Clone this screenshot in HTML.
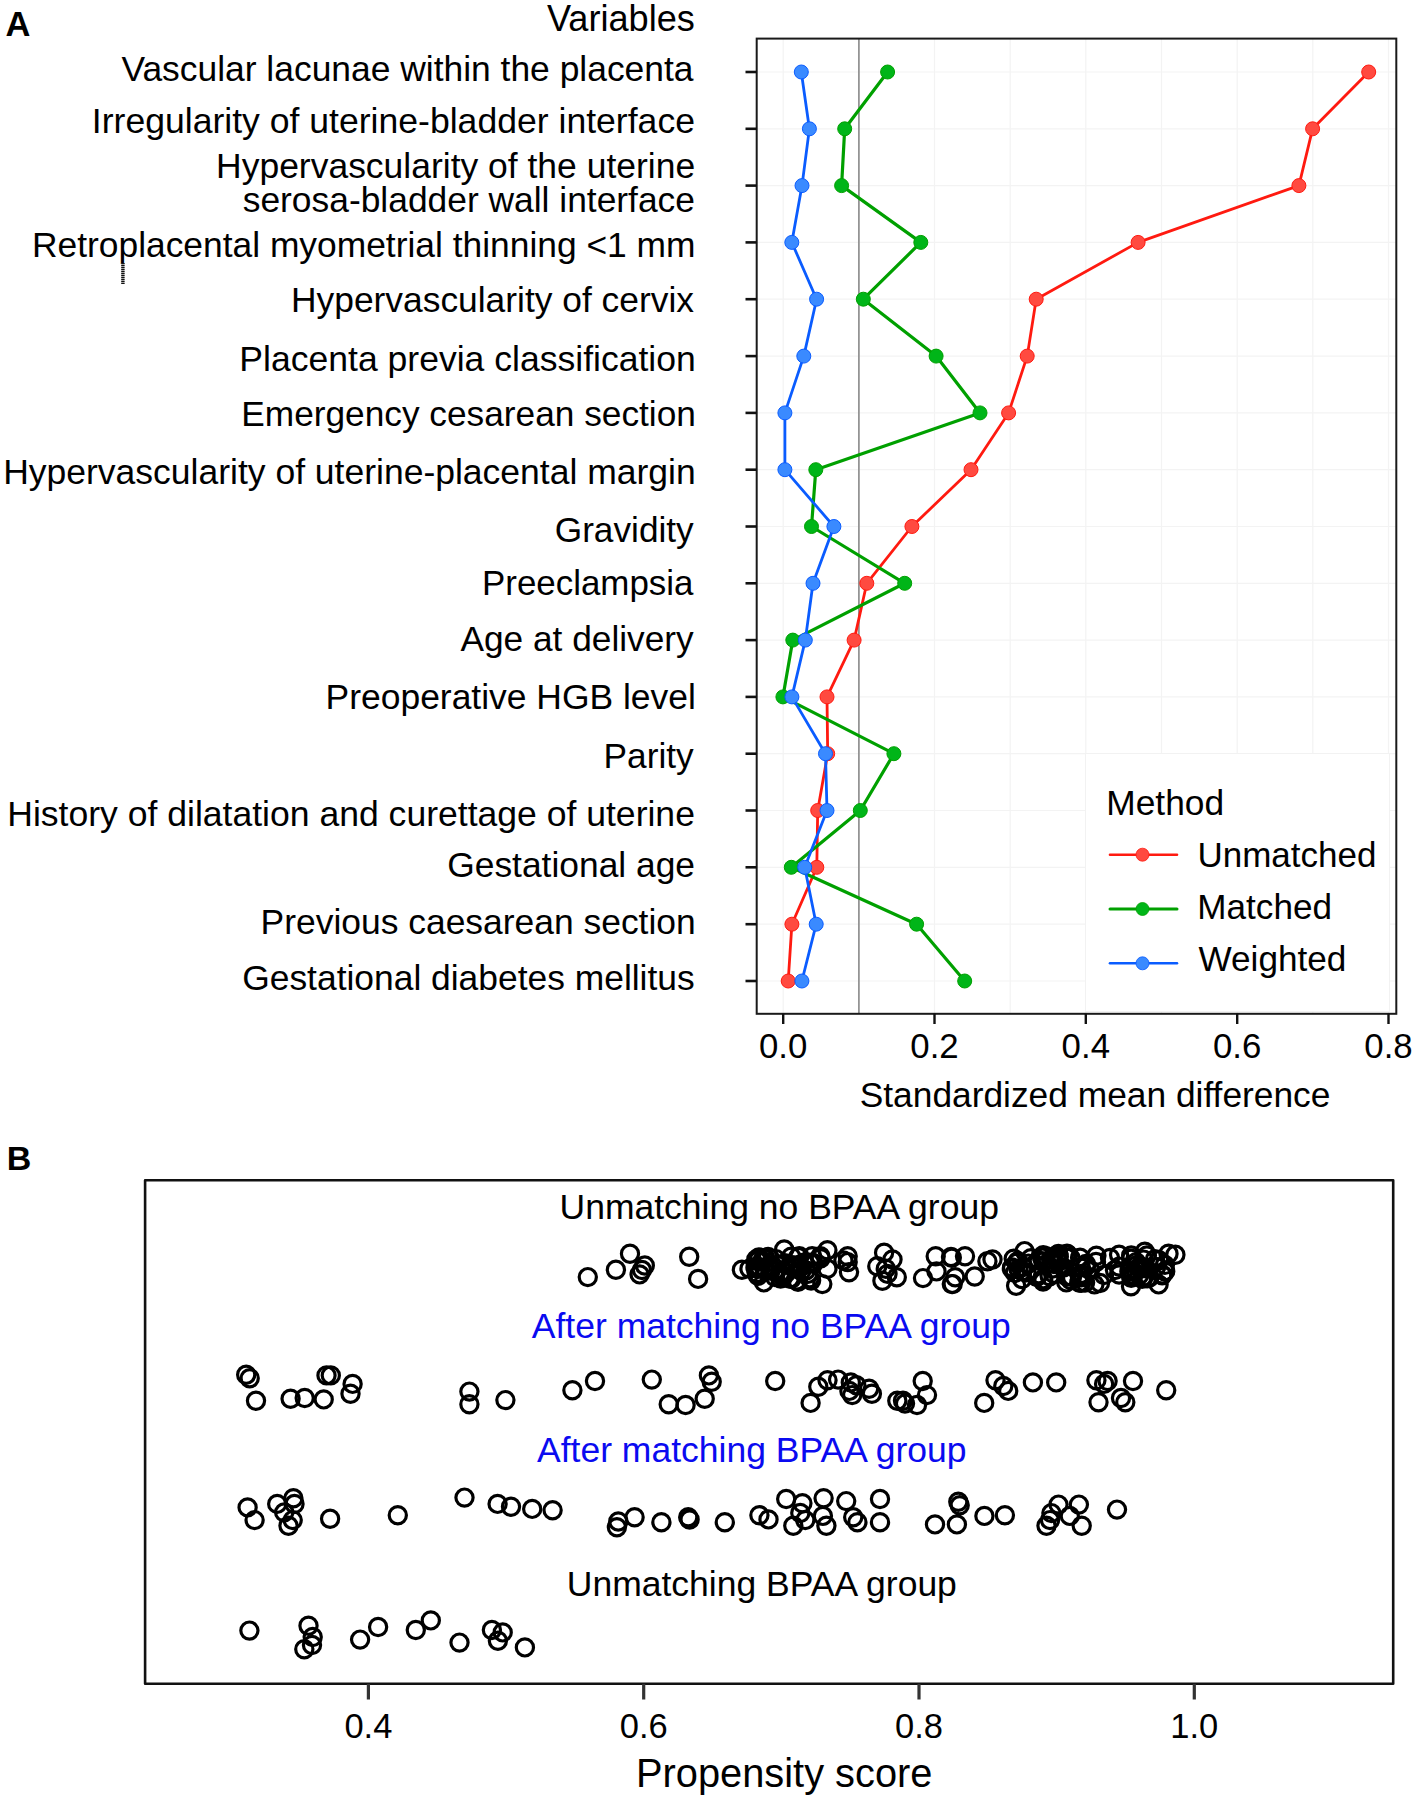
<!DOCTYPE html>
<html><head><meta charset="utf-8"><title>Figure</title>
<style>html,body{margin:0;padding:0;background:#fff;}body{width:1418px;height:1802px;overflow:hidden;font-family:"Liberation Sans",sans-serif;}svg{display:block;}</style>
</head><body>
<svg width="1418" height="1802" viewBox="0 0 1418 1802" font-family="&quot;Liberation Sans&quot;, sans-serif" fill="#000"><g stroke="#f3f3f3" stroke-width="1.2"><line x1="783.2" y1="38.6" x2="783.2" y2="1013.8"/><line x1="858.9" y1="38.6" x2="858.9" y2="1013.8"/><line x1="934.5" y1="38.6" x2="934.5" y2="1013.8"/><line x1="1010.2" y1="38.6" x2="1010.2" y2="1013.8"/><line x1="1085.8" y1="38.6" x2="1085.8" y2="1013.8"/><line x1="1161.5" y1="38.6" x2="1161.5" y2="1013.8"/><line x1="1237.2" y1="38.6" x2="1237.2" y2="1013.8"/><line x1="1312.8" y1="38.6" x2="1312.8" y2="1013.8"/><line x1="1388.5" y1="38.6" x2="1388.5" y2="1013.8"/><line x1="756.7" y1="72.0" x2="1396.3" y2="72.0"/><line x1="756.7" y1="128.8" x2="1396.3" y2="128.8"/><line x1="756.7" y1="185.6" x2="1396.3" y2="185.6"/><line x1="756.7" y1="242.4" x2="1396.3" y2="242.4"/><line x1="756.7" y1="299.2" x2="1396.3" y2="299.2"/><line x1="756.7" y1="356.1" x2="1396.3" y2="356.1"/><line x1="756.7" y1="412.9" x2="1396.3" y2="412.9"/><line x1="756.7" y1="469.7" x2="1396.3" y2="469.7"/><line x1="756.7" y1="526.5" x2="1396.3" y2="526.5"/><line x1="756.7" y1="583.3" x2="1396.3" y2="583.3"/><line x1="756.7" y1="640.1" x2="1396.3" y2="640.1"/><line x1="756.7" y1="696.9" x2="1396.3" y2="696.9"/><line x1="756.7" y1="753.7" x2="1396.3" y2="753.7"/><line x1="756.7" y1="810.5" x2="1396.3" y2="810.5"/><line x1="756.7" y1="867.3" x2="1396.3" y2="867.3"/><line x1="756.7" y1="924.2" x2="1396.3" y2="924.2"/><line x1="756.7" y1="981.0" x2="1396.3" y2="981.0"/></g>
<line x1="858.9" y1="38.6" x2="858.9" y2="1013.8" stroke="#8a8a8a" stroke-width="1.6"/>
<polyline points="1368.7,72.0 1312.6,128.8 1298.9,185.6 1138.1,242.4 1036.2,299.2 1027.2,356.1 1008.6,412.9 971.0,469.7 911.9,526.5 866.8,583.3 854.1,640.1 827.0,696.9 827.7,753.7 817.7,810.5 816.8,867.3 791.9,924.2 788.2,981.0" fill="none" stroke="#ff1a10" stroke-width="2.8" stroke-linejoin="round"/><circle cx="1368.7" cy="72.0" r="7.0" fill="#ff4a40" stroke="#ff1a10" stroke-width="1"/><circle cx="1312.6" cy="128.8" r="7.0" fill="#ff4a40" stroke="#ff1a10" stroke-width="1"/><circle cx="1298.9" cy="185.6" r="7.0" fill="#ff4a40" stroke="#ff1a10" stroke-width="1"/><circle cx="1138.1" cy="242.4" r="7.0" fill="#ff4a40" stroke="#ff1a10" stroke-width="1"/><circle cx="1036.2" cy="299.2" r="7.0" fill="#ff4a40" stroke="#ff1a10" stroke-width="1"/><circle cx="1027.2" cy="356.1" r="7.0" fill="#ff4a40" stroke="#ff1a10" stroke-width="1"/><circle cx="1008.6" cy="412.9" r="7.0" fill="#ff4a40" stroke="#ff1a10" stroke-width="1"/><circle cx="971.0" cy="469.7" r="7.0" fill="#ff4a40" stroke="#ff1a10" stroke-width="1"/><circle cx="911.9" cy="526.5" r="7.0" fill="#ff4a40" stroke="#ff1a10" stroke-width="1"/><circle cx="866.8" cy="583.3" r="7.0" fill="#ff4a40" stroke="#ff1a10" stroke-width="1"/><circle cx="854.1" cy="640.1" r="7.0" fill="#ff4a40" stroke="#ff1a10" stroke-width="1"/><circle cx="827.0" cy="696.9" r="7.0" fill="#ff4a40" stroke="#ff1a10" stroke-width="1"/><circle cx="827.7" cy="753.7" r="7.0" fill="#ff4a40" stroke="#ff1a10" stroke-width="1"/><circle cx="817.7" cy="810.5" r="7.0" fill="#ff4a40" stroke="#ff1a10" stroke-width="1"/><circle cx="816.8" cy="867.3" r="7.0" fill="#ff4a40" stroke="#ff1a10" stroke-width="1"/><circle cx="791.9" cy="924.2" r="7.0" fill="#ff4a40" stroke="#ff1a10" stroke-width="1"/><circle cx="788.2" cy="981.0" r="7.0" fill="#ff4a40" stroke="#ff1a10" stroke-width="1"/>
<polyline points="887.6,72.0 844.7,128.8 841.6,185.6 920.8,242.4 863.3,299.2 936.1,356.1 980.0,412.9 815.8,469.7 811.5,526.5 904.7,583.3 792.8,640.1 782.9,696.9 893.9,753.7 860.3,810.5 791.3,867.3 916.6,924.2 964.7,981.0" fill="none" stroke="#00a000" stroke-width="3.2" stroke-linejoin="round"/><circle cx="887.6" cy="72.0" r="7.0" fill="#00b518" stroke="#00a000" stroke-width="1"/><circle cx="844.7" cy="128.8" r="7.0" fill="#00b518" stroke="#00a000" stroke-width="1"/><circle cx="841.6" cy="185.6" r="7.0" fill="#00b518" stroke="#00a000" stroke-width="1"/><circle cx="920.8" cy="242.4" r="7.0" fill="#00b518" stroke="#00a000" stroke-width="1"/><circle cx="863.3" cy="299.2" r="7.0" fill="#00b518" stroke="#00a000" stroke-width="1"/><circle cx="936.1" cy="356.1" r="7.0" fill="#00b518" stroke="#00a000" stroke-width="1"/><circle cx="980.0" cy="412.9" r="7.0" fill="#00b518" stroke="#00a000" stroke-width="1"/><circle cx="815.8" cy="469.7" r="7.0" fill="#00b518" stroke="#00a000" stroke-width="1"/><circle cx="811.5" cy="526.5" r="7.0" fill="#00b518" stroke="#00a000" stroke-width="1"/><circle cx="904.7" cy="583.3" r="7.0" fill="#00b518" stroke="#00a000" stroke-width="1"/><circle cx="792.8" cy="640.1" r="7.0" fill="#00b518" stroke="#00a000" stroke-width="1"/><circle cx="782.9" cy="696.9" r="7.0" fill="#00b518" stroke="#00a000" stroke-width="1"/><circle cx="893.9" cy="753.7" r="7.0" fill="#00b518" stroke="#00a000" stroke-width="1"/><circle cx="860.3" cy="810.5" r="7.0" fill="#00b518" stroke="#00a000" stroke-width="1"/><circle cx="791.3" cy="867.3" r="7.0" fill="#00b518" stroke="#00a000" stroke-width="1"/><circle cx="916.6" cy="924.2" r="7.0" fill="#00b518" stroke="#00a000" stroke-width="1"/><circle cx="964.7" cy="981.0" r="7.0" fill="#00b518" stroke="#00a000" stroke-width="1"/>
<polyline points="801.3,72.0 809.4,128.8 802.0,185.6 791.8,242.4 816.6,299.2 803.8,356.1 784.9,412.9 784.9,469.7 833.9,526.5 813.0,583.3 805.3,640.1 791.9,696.9 825.5,753.7 827.0,810.5 804.7,867.3 816.2,924.2 801.9,981.0" fill="none" stroke="#0a5cff" stroke-width="2.8" stroke-linejoin="round"/><circle cx="801.3" cy="72.0" r="7.0" fill="#3a8aff" stroke="#0a5cff" stroke-width="1"/><circle cx="809.4" cy="128.8" r="7.0" fill="#3a8aff" stroke="#0a5cff" stroke-width="1"/><circle cx="802.0" cy="185.6" r="7.0" fill="#3a8aff" stroke="#0a5cff" stroke-width="1"/><circle cx="791.8" cy="242.4" r="7.0" fill="#3a8aff" stroke="#0a5cff" stroke-width="1"/><circle cx="816.6" cy="299.2" r="7.0" fill="#3a8aff" stroke="#0a5cff" stroke-width="1"/><circle cx="803.8" cy="356.1" r="7.0" fill="#3a8aff" stroke="#0a5cff" stroke-width="1"/><circle cx="784.9" cy="412.9" r="7.0" fill="#3a8aff" stroke="#0a5cff" stroke-width="1"/><circle cx="784.9" cy="469.7" r="7.0" fill="#3a8aff" stroke="#0a5cff" stroke-width="1"/><circle cx="833.9" cy="526.5" r="7.0" fill="#3a8aff" stroke="#0a5cff" stroke-width="1"/><circle cx="813.0" cy="583.3" r="7.0" fill="#3a8aff" stroke="#0a5cff" stroke-width="1"/><circle cx="805.3" cy="640.1" r="7.0" fill="#3a8aff" stroke="#0a5cff" stroke-width="1"/><circle cx="791.9" cy="696.9" r="7.0" fill="#3a8aff" stroke="#0a5cff" stroke-width="1"/><circle cx="825.5" cy="753.7" r="7.0" fill="#3a8aff" stroke="#0a5cff" stroke-width="1"/><circle cx="827.0" cy="810.5" r="7.0" fill="#3a8aff" stroke="#0a5cff" stroke-width="1"/><circle cx="804.7" cy="867.3" r="7.0" fill="#3a8aff" stroke="#0a5cff" stroke-width="1"/><circle cx="816.2" cy="924.2" r="7.0" fill="#3a8aff" stroke="#0a5cff" stroke-width="1"/><circle cx="801.9" cy="981.0" r="7.0" fill="#3a8aff" stroke="#0a5cff" stroke-width="1"/>
<rect x="756.7" y="38.6" width="639.6" height="975.2" fill="none" stroke="#1a1a1a" stroke-width="2.0"/>
<g stroke="#111" stroke-width="2.6"><line x1="745.5" y1="72.0" x2="756.7" y2="72.0"/><line x1="745.5" y1="128.8" x2="756.7" y2="128.8"/><line x1="745.5" y1="185.6" x2="756.7" y2="185.6"/><line x1="745.5" y1="242.4" x2="756.7" y2="242.4"/><line x1="745.5" y1="299.2" x2="756.7" y2="299.2"/><line x1="745.5" y1="356.1" x2="756.7" y2="356.1"/><line x1="745.5" y1="412.9" x2="756.7" y2="412.9"/><line x1="745.5" y1="469.7" x2="756.7" y2="469.7"/><line x1="745.5" y1="526.5" x2="756.7" y2="526.5"/><line x1="745.5" y1="583.3" x2="756.7" y2="583.3"/><line x1="745.5" y1="640.1" x2="756.7" y2="640.1"/><line x1="745.5" y1="696.9" x2="756.7" y2="696.9"/><line x1="745.5" y1="753.7" x2="756.7" y2="753.7"/><line x1="745.5" y1="810.5" x2="756.7" y2="810.5"/><line x1="745.5" y1="867.3" x2="756.7" y2="867.3"/><line x1="745.5" y1="924.2" x2="756.7" y2="924.2"/><line x1="745.5" y1="981.0" x2="756.7" y2="981.0"/></g>
<g stroke="#111" stroke-width="2.4"><line x1="783.2" y1="1013.8" x2="783.2" y2="1024"/><line x1="934.5" y1="1013.8" x2="934.5" y2="1024"/><line x1="1085.8" y1="1013.8" x2="1085.8" y2="1024"/><line x1="1237.2" y1="1013.8" x2="1237.2" y2="1024"/><line x1="1388.5" y1="1013.8" x2="1388.5" y2="1024"/></g>
<text x="783.2" y="1057.6" font-size="34.8" text-anchor="middle">0.0</text>
<text x="934.5" y="1057.6" font-size="34.8" text-anchor="middle">0.2</text>
<text x="1085.8" y="1057.6" font-size="34.8" text-anchor="middle">0.4</text>
<text x="1237.2" y="1057.6" font-size="34.8" text-anchor="middle">0.6</text>
<text x="1388.5" y="1057.6" font-size="34.8" text-anchor="middle">0.8</text>
<text x="546.92" y="30.9" font-size="36.13">Variables</text>
<text x="121.42" y="80.7" font-size="35.41">Vascular lacunae within the placenta</text>
<text x="91.81" y="132.6" font-size="35.59">Irregularity of uterine-bladder interface</text>
<text x="216.07" y="178.4" font-size="35.47">Hypervascularity of the uterine</text>
<text x="242.73" y="211.7" font-size="35.39">serosa-bladder wall interface</text>
<text x="31.98" y="256.8" font-size="35.39">Retroplacental myometrial thinning &lt;1 mm</text>
<text x="290.98" y="312.3" font-size="35.38">Hypervascularity of cervix</text>
<text x="239.37" y="370.9" font-size="35.55">Placenta previa classification</text>
<text x="241.29" y="426.2" font-size="35.25">Emergency cesarean section</text>
<text x="3.17" y="483.9" font-size="35.51">Hypervascularity of uterine-placental margin</text>
<text x="554.74" y="542.2" font-size="35.22">Gravidity</text>
<text x="482.02" y="595.2" font-size="34.91">Preeclampsia</text>
<text x="460.51" y="651.0" font-size="35.25">Age at delivery</text>
<text x="325.58" y="709.2" font-size="35.45">Preoperative HGB level</text>
<text x="603.59" y="767.5" font-size="35.26">Parity</text>
<text x="7.27" y="825.6" font-size="35.56">History of dilatation and curettage of uterine</text>
<text x="447.23" y="876.9" font-size="35.39">Gestational age</text>
<text x="260.58" y="933.6" font-size="35.43">Previous caesarean section</text>
<text x="242.23" y="989.9" font-size="35.40">Gestational diabetes mellitus</text>
<line x1="122.9" y1="263" x2="122.9" y2="284" stroke="#a0a0a0" stroke-width="3.3"/><line x1="122.9" y1="263" x2="122.9" y2="284" stroke="#111" stroke-width="3.3" stroke-dasharray="1 1"/>
<rect x="1085.5" y="753.5" width="304" height="258" fill="#fff" stroke="#f2f2f2" stroke-width="1"/>
<text x="1106.29" y="814.8" font-size="35.33">Method</text>
<line x1="1110" y1="854.7" x2="1177" y2="854.7" stroke="#ff1a10" stroke-width="2.6" stroke-linecap="round"/>
<circle cx="1142.5" cy="854.7" r="6.5" fill="#ff4a40" stroke="#ff1a10" stroke-width="0.8"/>
<text x="1197.49" y="866.6" font-size="34.99">Unmatched</text>
<line x1="1110" y1="909.0" x2="1177" y2="909.0" stroke="#00a000" stroke-width="3.0" stroke-linecap="round"/>
<circle cx="1142.5" cy="909.0" r="6.5" fill="#00b518" stroke="#00a000" stroke-width="0.8"/>
<text x="1197.30" y="918.8" font-size="35.12">Matched</text>
<line x1="1110" y1="963.3" x2="1177" y2="963.3" stroke="#0a5cff" stroke-width="2.6" stroke-linecap="round"/>
<circle cx="1142.5" cy="963.3" r="6.5" fill="#3a8aff" stroke="#0a5cff" stroke-width="0.8"/>
<text x="1198.52" y="970.7" font-size="35.17">Weighted</text>
<text x="859.71" y="1106.7" font-size="35.35">Standardized mean difference</text>
<text x="5.5" y="36" font-size="34.5" font-weight="bold">A</text>
<text x="6.7" y="1169.8" font-size="34" font-weight="bold">B</text>
<rect x="145.1" y="1180.2" width="1248.1" height="503.6" fill="none" stroke="#111" stroke-width="2.6" stroke-linejoin="round"/>
<g stroke="#333" stroke-width="3.2"><line x1="368.4" y1="1683.8" x2="368.4" y2="1699.5"/><line x1="643.7" y1="1683.8" x2="643.7" y2="1699.5"/><line x1="919.0" y1="1683.8" x2="919.0" y2="1699.5"/><line x1="1194.3" y1="1683.8" x2="1194.3" y2="1699.5"/></g>
<text x="368.4" y="1737.7" font-size="34.5" text-anchor="middle">0.4</text>
<text x="643.7" y="1737.7" font-size="34.5" text-anchor="middle">0.6</text>
<text x="919.0" y="1737.7" font-size="34.5" text-anchor="middle">0.8</text>
<text x="1194.3" y="1737.7" font-size="34.5" text-anchor="middle">1.0</text>
<text x="636.0" y="1786.9" font-size="39.8">Propensity score</text>
<text x="559.5" y="1218.9" font-size="35.5" fill="#000">Unmatching no BPAA group</text>
<text x="531.8" y="1338.3" font-size="35.5" fill="#0a0af0">After matching no BPAA group</text>
<text x="537.0" y="1462.4" font-size="35.5" fill="#0a0af0">After matching BPAA group</text>
<text x="566.8" y="1596.3" font-size="35.5" fill="#000">Unmatching BPAA group</text>
<g fill="none" stroke="#000" stroke-width="3.2"><circle cx="249.4" cy="1630.6" r="8.6"/><circle cx="308.5" cy="1625.8" r="8.6"/><circle cx="312.7" cy="1637.0" r="8.6"/><circle cx="312.0" cy="1645.0" r="8.6"/><circle cx="304.3" cy="1649.2" r="8.6"/><circle cx="360.1" cy="1639.6" r="8.6"/><circle cx="378.1" cy="1627.0" r="8.6"/><circle cx="415.8" cy="1630.0" r="8.6"/><circle cx="430.8" cy="1620.4" r="8.6"/><circle cx="459.5" cy="1642.6" r="8.6"/><circle cx="491.9" cy="1630.0" r="8.6"/><circle cx="502.7" cy="1632.4" r="8.6"/><circle cx="497.9" cy="1640.8" r="8.6"/><circle cx="524.9" cy="1647.4" r="8.6"/><circle cx="247.6" cy="1507.4" r="8.6"/><circle cx="254.6" cy="1520.1" r="8.6"/><circle cx="277.2" cy="1503.9" r="8.6"/><circle cx="293.4" cy="1498.3" r="8.6"/><circle cx="294.5" cy="1504.0" r="8.6"/><circle cx="284.2" cy="1512.4" r="8.6"/><circle cx="292.7" cy="1520.1" r="8.6"/><circle cx="288.5" cy="1525.8" r="8.6"/><circle cx="330.1" cy="1518.7" r="8.6"/><circle cx="397.8" cy="1515.2" r="8.6"/><circle cx="464.5" cy="1497.6" r="8.6"/><circle cx="497.6" cy="1503.9" r="8.6"/><circle cx="511.0" cy="1506.7" r="8.6"/><circle cx="532.2" cy="1508.9" r="8.6"/><circle cx="552.6" cy="1510.3" r="8.6"/><circle cx="618.3" cy="1521.5" r="8.6"/><circle cx="616.9" cy="1527.2" r="8.6"/><circle cx="634.6" cy="1517.3" r="8.6"/><circle cx="661.4" cy="1522.2" r="8.6"/><circle cx="688.2" cy="1517.3" r="8.6"/><circle cx="689.6" cy="1519.5" r="8.6"/><circle cx="724.8" cy="1522.2" r="8.6"/><circle cx="759.4" cy="1515.2" r="8.6"/><circle cx="768.5" cy="1519.4" r="8.6"/><circle cx="786.2" cy="1499.0" r="8.6"/><circle cx="802.4" cy="1503.2" r="8.6"/><circle cx="793.3" cy="1525.8" r="8.6"/><circle cx="805.3" cy="1520.1" r="8.6"/><circle cx="800.3" cy="1513.0" r="8.6"/><circle cx="823.6" cy="1498.3" r="8.6"/><circle cx="822.9" cy="1515.9" r="8.6"/><circle cx="826.4" cy="1525.8" r="8.6"/><circle cx="846.2" cy="1501.1" r="8.6"/><circle cx="853.2" cy="1517.3" r="8.6"/><circle cx="857.4" cy="1522.2" r="8.6"/><circle cx="880.0" cy="1499.0" r="8.6"/><circle cx="880.0" cy="1522.2" r="8.6"/><circle cx="935.0" cy="1524.4" r="8.6"/><circle cx="958.3" cy="1501.8" r="8.6"/><circle cx="959.7" cy="1505.3" r="8.6"/><circle cx="956.9" cy="1524.4" r="8.6"/><circle cx="984.4" cy="1515.9" r="8.6"/><circle cx="1004.9" cy="1515.2" r="8.6"/><circle cx="1058.5" cy="1504.6" r="8.6"/><circle cx="1051.4" cy="1513.1" r="8.6"/><circle cx="1050.0" cy="1520.1" r="8.6"/><circle cx="1046.5" cy="1525.8" r="8.6"/><circle cx="1078.9" cy="1504.6" r="8.6"/><circle cx="1069.8" cy="1515.9" r="8.6"/><circle cx="1081.7" cy="1525.8" r="8.6"/><circle cx="1117.0" cy="1509.6" r="8.6"/><circle cx="246.2" cy="1374.7" r="8.6"/><circle cx="249.7" cy="1378.2" r="8.6"/><circle cx="256.0" cy="1400.8" r="8.6"/><circle cx="290.6" cy="1398.7" r="8.6"/><circle cx="304.7" cy="1398.0" r="8.6"/><circle cx="323.7" cy="1399.4" r="8.6"/><circle cx="326.5" cy="1375.4" r="8.6"/><circle cx="330.8" cy="1375.4" r="8.6"/><circle cx="352.6" cy="1383.9" r="8.6"/><circle cx="350.5" cy="1393.7" r="8.6"/><circle cx="469.4" cy="1391.6" r="8.6"/><circle cx="469.4" cy="1404.3" r="8.6"/><circle cx="505.4" cy="1400.1" r="8.6"/><circle cx="572.4" cy="1390.2" r="8.6"/><circle cx="595.0" cy="1381.0" r="8.6"/><circle cx="651.8" cy="1379.6" r="8.6"/><circle cx="668.7" cy="1404.3" r="8.6"/><circle cx="685.6" cy="1405.0" r="8.6"/><circle cx="704.7" cy="1398.7" r="8.6"/><circle cx="708.9" cy="1375.4" r="8.6"/><circle cx="711.7" cy="1381.7" r="8.6"/><circle cx="775.2" cy="1381.0" r="8.6"/><circle cx="810.6" cy="1402.9" r="8.6"/><circle cx="818.3" cy="1386.7" r="8.6"/><circle cx="827.5" cy="1380.3" r="8.6"/><circle cx="838.1" cy="1379.6" r="8.6"/><circle cx="850.8" cy="1382.4" r="8.6"/><circle cx="849.4" cy="1390.9" r="8.6"/><circle cx="852.2" cy="1395.1" r="8.6"/><circle cx="856.4" cy="1385.3" r="8.6"/><circle cx="869.1" cy="1388.8" r="8.6"/><circle cx="871.9" cy="1393.7" r="8.6"/><circle cx="897.3" cy="1400.8" r="8.6"/><circle cx="903.0" cy="1400.8" r="8.6"/><circle cx="905.0" cy="1403.6" r="8.6"/><circle cx="922.7" cy="1381.0" r="8.6"/><circle cx="927.0" cy="1395.1" r="8.6"/><circle cx="917.0" cy="1405.0" r="8.6"/><circle cx="984.2" cy="1402.9" r="8.6"/><circle cx="995.5" cy="1380.3" r="8.6"/><circle cx="1003.3" cy="1386.0" r="8.6"/><circle cx="1008.2" cy="1390.9" r="8.6"/><circle cx="1032.9" cy="1382.4" r="8.6"/><circle cx="1056.2" cy="1382.4" r="8.6"/><circle cx="1096.4" cy="1380.3" r="8.6"/><circle cx="1104.1" cy="1383.9" r="8.6"/><circle cx="1107.6" cy="1381.0" r="8.6"/><circle cx="1098.5" cy="1402.2" r="8.6"/><circle cx="1121.0" cy="1398.0" r="8.6"/><circle cx="1125.3" cy="1402.2" r="8.6"/><circle cx="1133.0" cy="1381.0" r="8.6"/><circle cx="1166.2" cy="1390.2" r="8.6"/><circle cx="587.8" cy="1277.1" r="8.6"/><circle cx="615.9" cy="1269.7" r="8.6"/><circle cx="630.0" cy="1253.7" r="8.6"/><circle cx="644.8" cy="1265.5" r="8.6"/><circle cx="639.6" cy="1274.4" r="8.6"/><circle cx="642.0" cy="1270.0" r="8.6"/><circle cx="689.2" cy="1256.7" r="8.6"/><circle cx="698.1" cy="1278.9" r="8.6"/><circle cx="741.9" cy="1269.7" r="8.6"/><circle cx="749.5" cy="1268.8" r="8.6"/><circle cx="756.3" cy="1259.5" r="8.6"/><circle cx="768.1" cy="1257.0" r="8.6"/><circle cx="784.2" cy="1249.4" r="8.6"/><circle cx="799.4" cy="1256.2" r="8.6"/><circle cx="812.1" cy="1256.2" r="8.6"/><circle cx="827.4" cy="1250.2" r="8.6"/><circle cx="843.4" cy="1260.4" r="8.6"/><circle cx="763.9" cy="1282.4" r="8.6"/><circle cx="822.3" cy="1284.1" r="8.6"/><circle cx="827.4" cy="1268.8" r="8.6"/><circle cx="847.7" cy="1256.2" r="8.6"/><circle cx="847.7" cy="1262.1" r="8.6"/><circle cx="849.0" cy="1272.2" r="8.6"/><circle cx="884.1" cy="1252.8" r="8.6"/><circle cx="892.5" cy="1259.5" r="8.6"/><circle cx="877.3" cy="1266.3" r="8.6"/><circle cx="885.8" cy="1268.8" r="8.6"/><circle cx="882.4" cy="1280.7" r="8.6"/><circle cx="896.8" cy="1277.3" r="8.6"/><circle cx="887.5" cy="1273.9" r="8.6"/><circle cx="923.0" cy="1278.1" r="8.6"/><circle cx="935.7" cy="1256.2" r="8.6"/><circle cx="936.5" cy="1271.4" r="8.6"/><circle cx="951.8" cy="1257.8" r="8.6"/><circle cx="951.8" cy="1284.1" r="8.6"/><circle cx="951.0" cy="1257.0" r="8.6"/><circle cx="965.0" cy="1256.2" r="8.6"/><circle cx="952.7" cy="1284.1" r="8.6"/><circle cx="955.2" cy="1277.3" r="8.6"/><circle cx="974.7" cy="1276.5" r="8.6"/><circle cx="987.4" cy="1261.2" r="8.6"/><circle cx="992.5" cy="1259.5" r="8.6"/><circle cx="1024.6" cy="1251.1" r="8.6"/><circle cx="1043.2" cy="1255.3" r="8.6"/><circle cx="1016.1" cy="1285.8" r="8.6"/><circle cx="1011.9" cy="1268.8" r="8.6"/><circle cx="1067.8" cy="1254.7" r="8.6"/><circle cx="1096.4" cy="1255.7" r="8.6"/><circle cx="1119.1" cy="1254.7" r="8.6"/><circle cx="1119.1" cy="1266.6" r="8.6"/><circle cx="1119.1" cy="1274.5" r="8.6"/><circle cx="1144.8" cy="1251.8" r="8.6"/><circle cx="1175.4" cy="1254.7" r="8.6"/><circle cx="1168.5" cy="1253.8" r="8.6"/><circle cx="1094.4" cy="1284.4" r="8.6"/><circle cx="1131.0" cy="1286.3" r="8.6"/><circle cx="1158.6" cy="1284.4" r="8.6"/><circle cx="776.0" cy="1259.1" r="8.6"/><circle cx="798.3" cy="1257.0" r="8.6"/><circle cx="790.4" cy="1264.9" r="8.6"/><circle cx="757.9" cy="1268.7" r="8.6"/><circle cx="756.5" cy="1266.7" r="8.6"/><circle cx="758.8" cy="1257.4" r="8.6"/><circle cx="782.9" cy="1277.3" r="8.6"/><circle cx="762.4" cy="1261.0" r="8.6"/><circle cx="796.7" cy="1280.6" r="8.6"/><circle cx="793.2" cy="1265.7" r="8.6"/><circle cx="820.4" cy="1256.3" r="8.6"/><circle cx="812.4" cy="1262.8" r="8.6"/><circle cx="763.8" cy="1258.2" r="8.6"/><circle cx="775.0" cy="1277.0" r="8.6"/><circle cx="766.3" cy="1270.7" r="8.6"/><circle cx="797.4" cy="1265.1" r="8.6"/><circle cx="791.2" cy="1256.7" r="8.6"/><circle cx="758.1" cy="1260.6" r="8.6"/><circle cx="800.3" cy="1266.5" r="8.6"/><circle cx="775.4" cy="1270.8" r="8.6"/><circle cx="784.8" cy="1263.1" r="8.6"/><circle cx="808.0" cy="1273.9" r="8.6"/><circle cx="770.6" cy="1270.5" r="8.6"/><circle cx="789.7" cy="1278.6" r="8.6"/><circle cx="803.6" cy="1262.8" r="8.6"/><circle cx="820.7" cy="1258.2" r="8.6"/><circle cx="782.4" cy="1275.4" r="8.6"/><circle cx="764.3" cy="1268.2" r="8.6"/><circle cx="756.7" cy="1273.0" r="8.6"/><circle cx="806.0" cy="1270.5" r="8.6"/><circle cx="813.5" cy="1263.5" r="8.6"/><circle cx="801.3" cy="1271.0" r="8.6"/><circle cx="793.4" cy="1267.3" r="8.6"/><circle cx="811.1" cy="1280.5" r="8.6"/><circle cx="786.2" cy="1272.9" r="8.6"/><circle cx="758.1" cy="1273.9" r="8.6"/><circle cx="798.0" cy="1281.8" r="8.6"/><circle cx="809.9" cy="1262.7" r="8.6"/><circle cx="780.2" cy="1273.1" r="8.6"/><circle cx="755.5" cy="1267.5" r="8.6"/><circle cx="765.4" cy="1258.2" r="8.6"/><circle cx="758.0" cy="1275.7" r="8.6"/><circle cx="762.8" cy="1261.7" r="8.6"/><circle cx="780.6" cy="1278.5" r="8.6"/><circle cx="759.5" cy="1267.1" r="8.6"/><circle cx="791.4" cy="1278.9" r="8.6"/><circle cx="809.7" cy="1278.3" r="8.6"/><circle cx="772.9" cy="1266.2" r="8.6"/><circle cx="1022.0" cy="1279.1" r="8.6"/><circle cx="1038.8" cy="1260.8" r="8.6"/><circle cx="1016.9" cy="1262.8" r="8.6"/><circle cx="1018.5" cy="1269.1" r="8.6"/><circle cx="1028.5" cy="1263.6" r="8.6"/><circle cx="1012.1" cy="1267.5" r="8.6"/><circle cx="1022.3" cy="1271.2" r="8.6"/><circle cx="1038.7" cy="1274.3" r="8.6"/><circle cx="1026.4" cy="1272.4" r="8.6"/><circle cx="1030.9" cy="1258.3" r="8.6"/><circle cx="1037.2" cy="1276.5" r="8.6"/><circle cx="1036.5" cy="1276.9" r="8.6"/><circle cx="1023.0" cy="1267.0" r="8.6"/><circle cx="1014.9" cy="1272.9" r="8.6"/><circle cx="1013.7" cy="1258.7" r="8.6"/><circle cx="1017.8" cy="1261.1" r="8.6"/><circle cx="1057.6" cy="1254.6" r="8.6"/><circle cx="1042.0" cy="1257.5" r="8.6"/><circle cx="1046.7" cy="1263.9" r="8.6"/><circle cx="1043.2" cy="1279.2" r="8.6"/><circle cx="1070.2" cy="1257.5" r="8.6"/><circle cx="1053.6" cy="1263.4" r="8.6"/><circle cx="1058.8" cy="1256.7" r="8.6"/><circle cx="1081.1" cy="1282.8" r="8.6"/><circle cx="1063.4" cy="1267.5" r="8.6"/><circle cx="1046.0" cy="1256.1" r="8.6"/><circle cx="1057.8" cy="1260.9" r="8.6"/><circle cx="1080.1" cy="1257.8" r="8.6"/><circle cx="1043.1" cy="1281.5" r="8.6"/><circle cx="1066.3" cy="1257.4" r="8.6"/><circle cx="1067.0" cy="1253.8" r="8.6"/><circle cx="1066.3" cy="1282.4" r="8.6"/><circle cx="1081.7" cy="1273.9" r="8.6"/><circle cx="1054.0" cy="1264.0" r="8.6"/><circle cx="1049.7" cy="1276.2" r="8.6"/><circle cx="1066.5" cy="1276.4" r="8.6"/><circle cx="1057.2" cy="1259.7" r="8.6"/><circle cx="1079.3" cy="1282.5" r="8.6"/><circle cx="1081.2" cy="1277.2" r="8.6"/><circle cx="1079.6" cy="1275.2" r="8.6"/><circle cx="1052.4" cy="1268.5" r="8.6"/><circle cx="1058.4" cy="1253.9" r="8.6"/><circle cx="1043.3" cy="1261.4" r="8.6"/><circle cx="1053.9" cy="1273.8" r="8.6"/><circle cx="1086.0" cy="1266.4" r="8.6"/><circle cx="1085.1" cy="1282.6" r="8.6"/><circle cx="1085.9" cy="1263.9" r="8.6"/><circle cx="1052.1" cy="1259.8" r="8.6"/><circle cx="1051.0" cy="1259.1" r="8.6"/><circle cx="1070.7" cy="1280.0" r="8.6"/><circle cx="1080.7" cy="1267.4" r="8.6"/><circle cx="1072.0" cy="1277.0" r="8.6"/><circle cx="1129.4" cy="1271.5" r="8.6"/><circle cx="1162.4" cy="1274.6" r="8.6"/><circle cx="1156.0" cy="1267.0" r="8.6"/><circle cx="1133.1" cy="1274.7" r="8.6"/><circle cx="1139.3" cy="1275.0" r="8.6"/><circle cx="1164.9" cy="1264.9" r="8.6"/><circle cx="1142.1" cy="1278.7" r="8.6"/><circle cx="1155.0" cy="1259.3" r="8.6"/><circle cx="1131.1" cy="1258.8" r="8.6"/><circle cx="1162.2" cy="1275.2" r="8.6"/><circle cx="1131.8" cy="1275.7" r="8.6"/><circle cx="1165.2" cy="1271.4" r="8.6"/><circle cx="1140.0" cy="1268.7" r="8.6"/><circle cx="1131.2" cy="1255.4" r="8.6"/><circle cx="1164.8" cy="1271.2" r="8.6"/><circle cx="1147.1" cy="1278.3" r="8.6"/><circle cx="1143.4" cy="1276.8" r="8.6"/><circle cx="1159.0" cy="1260.3" r="8.6"/><circle cx="1136.1" cy="1262.3" r="8.6"/><circle cx="1135.6" cy="1269.7" r="8.6"/><circle cx="1136.4" cy="1265.5" r="8.6"/><circle cx="1131.2" cy="1277.8" r="8.6"/><circle cx="1140.2" cy="1266.5" r="8.6"/><circle cx="1149.3" cy="1277.6" r="8.6"/><circle cx="1142.8" cy="1277.9" r="8.6"/><circle cx="1146.1" cy="1268.3" r="8.6"/><circle cx="1146.9" cy="1255.5" r="8.6"/><circle cx="1143.6" cy="1259.6" r="8.6"/><circle cx="1096.0" cy="1262.0" r="8.6"/><circle cx="1104.0" cy="1275.0" r="8.6"/><circle cx="1110.0" cy="1258.0" r="8.6"/><circle cx="1100.0" cy="1283.0" r="8.6"/><circle cx="1115.0" cy="1270.0" r="8.6"/><circle cx="1090.0" cy="1270.0" r="8.6"/></g></svg>
</body></html>
